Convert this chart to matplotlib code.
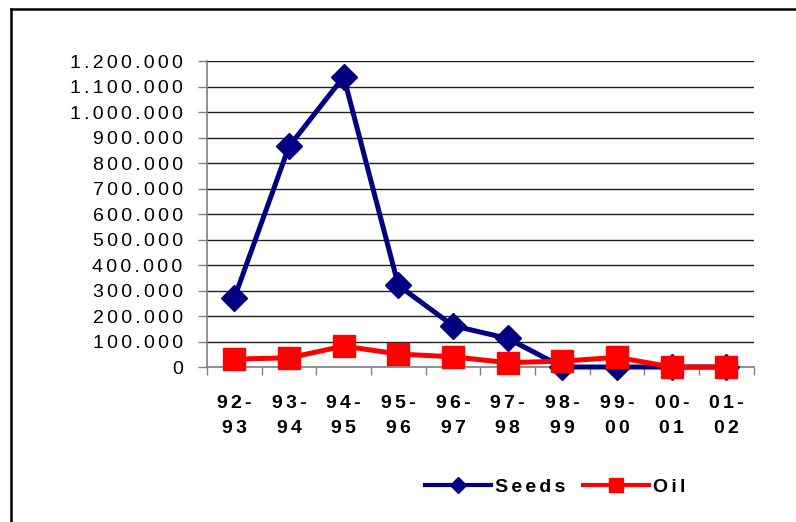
import matplotlib
matplotlib.use("Agg")
import matplotlib.pyplot as plt
from matplotlib.lines import Line2D
from matplotlib.ticker import FixedLocator, FuncFormatter

plt.rcParams["font.family"] = ["Liberation Sans", "DejaVu Sans"]

seasons = ["92-93", "93-94", "94-95", "95-96", "96-97",
           "97-98", "98-99", "99-00", "00-01", "01-02"]
seeds = [270000, 865000, 1138000, 320000, 162000, 112000, 0, 0, 0, 0]
oil = [31000, 36000, 82000, 51000, 40000, 17000, 23000, 38000, 0, 0]

GAP = "\u2006"


def spaced(text):
    # widen the letter spacing a little
    return GAP.join(text)


def thousands(v, pos=None):
    s = f"{int(round(v)):,}".replace(",", ".")
    return spaced(s)


fig = plt.figure(figsize=(7.96, 5.22), dpi=100)
ax = fig.add_axes([0.260, 0.2969, 0.687, 0.5862])

x = list(range(len(seasons)))
ax.plot(x, seeds, color="#000080", lw=3.6, marker="D", ms=13.5,
        mec="#000080", mfc="#000080", label="Seeds", zorder=3, clip_on=False)
ax.plot(x, oil, color="#ff0000", lw=3.6, marker="s", ms=16,
        mec="#ff0000", mfc="#ff0000", label="Oil", zorder=4, clip_on=False)

ax.set_xlim(-0.5, len(seasons) - 0.5)
ax.set_ylim(0, 1200000)
ax.set_yticks(range(0, 1200001, 100000))
ax.yaxis.set_major_formatter(FuncFormatter(thousands))
ax.grid(axis="y", color="#202020", lw=1)
ax.set_axisbelow(True)

# category labels centred, tick marks on the boundaries
ax.set_xticks(x)
ax.set_xticklabels([spaced(s.split("-")[0] + "-") + "\n" + spaced(s.split("-")[1])
                    for s in seasons],
                   fontsize=14, fontweight="bold", linespacing=1.6)
ax.xaxis.set_minor_locator(FixedLocator([i - 0.5 for i in range(len(seasons) + 1)]))
ax.tick_params(axis="x", which="major", length=0, pad=20)
ax.tick_params(axis="x", which="minor", length=6, width=1, color="#808080",
               direction="out")
ax.tick_params(axis="y", length=6.5, width=1, color="#808080", pad=11,
               labelsize=14)

for side in ("top", "right"):
    ax.spines[side].set_visible(False)
ax.spines["left"].set_color("#808080")
ax.spines["bottom"].set_color("#808080")
ax.spines["left"].set_linewidth(1.2)
ax.spines["bottom"].set_linewidth(1.2)

handles = [
    Line2D([], [], color="#000080", lw=3, marker="D", ms=8, mec="#000080",
           mfc="#000080"),
    Line2D([], [], color="#ff0000", lw=3, marker="s", ms=10, mec="#ff0000",
           mfc="#ff0000"),
]
fig.legend(handles, [spaced("Seeds"), spaced("Oil")], loc="center",
           bbox_to_anchor=(0.697, 0.067), ncol=2, frameon=False,
           handlelength=3.4, handletextpad=0.2, columnspacing=0.9,
           prop={"weight": "bold", "size": 14})

# outer chart frame
fig.add_artist(Line2D([0.0138, 0.0138], [0.0, 0.983], color="black", lw=1.8,
                      transform=fig.transFigure))
fig.add_artist(Line2D([0.0138, 1.0], [0.983, 0.983], color="black", lw=1.8,
                      transform=fig.transFigure))

fig.savefig("out.png", dpi=100, facecolor="white")
